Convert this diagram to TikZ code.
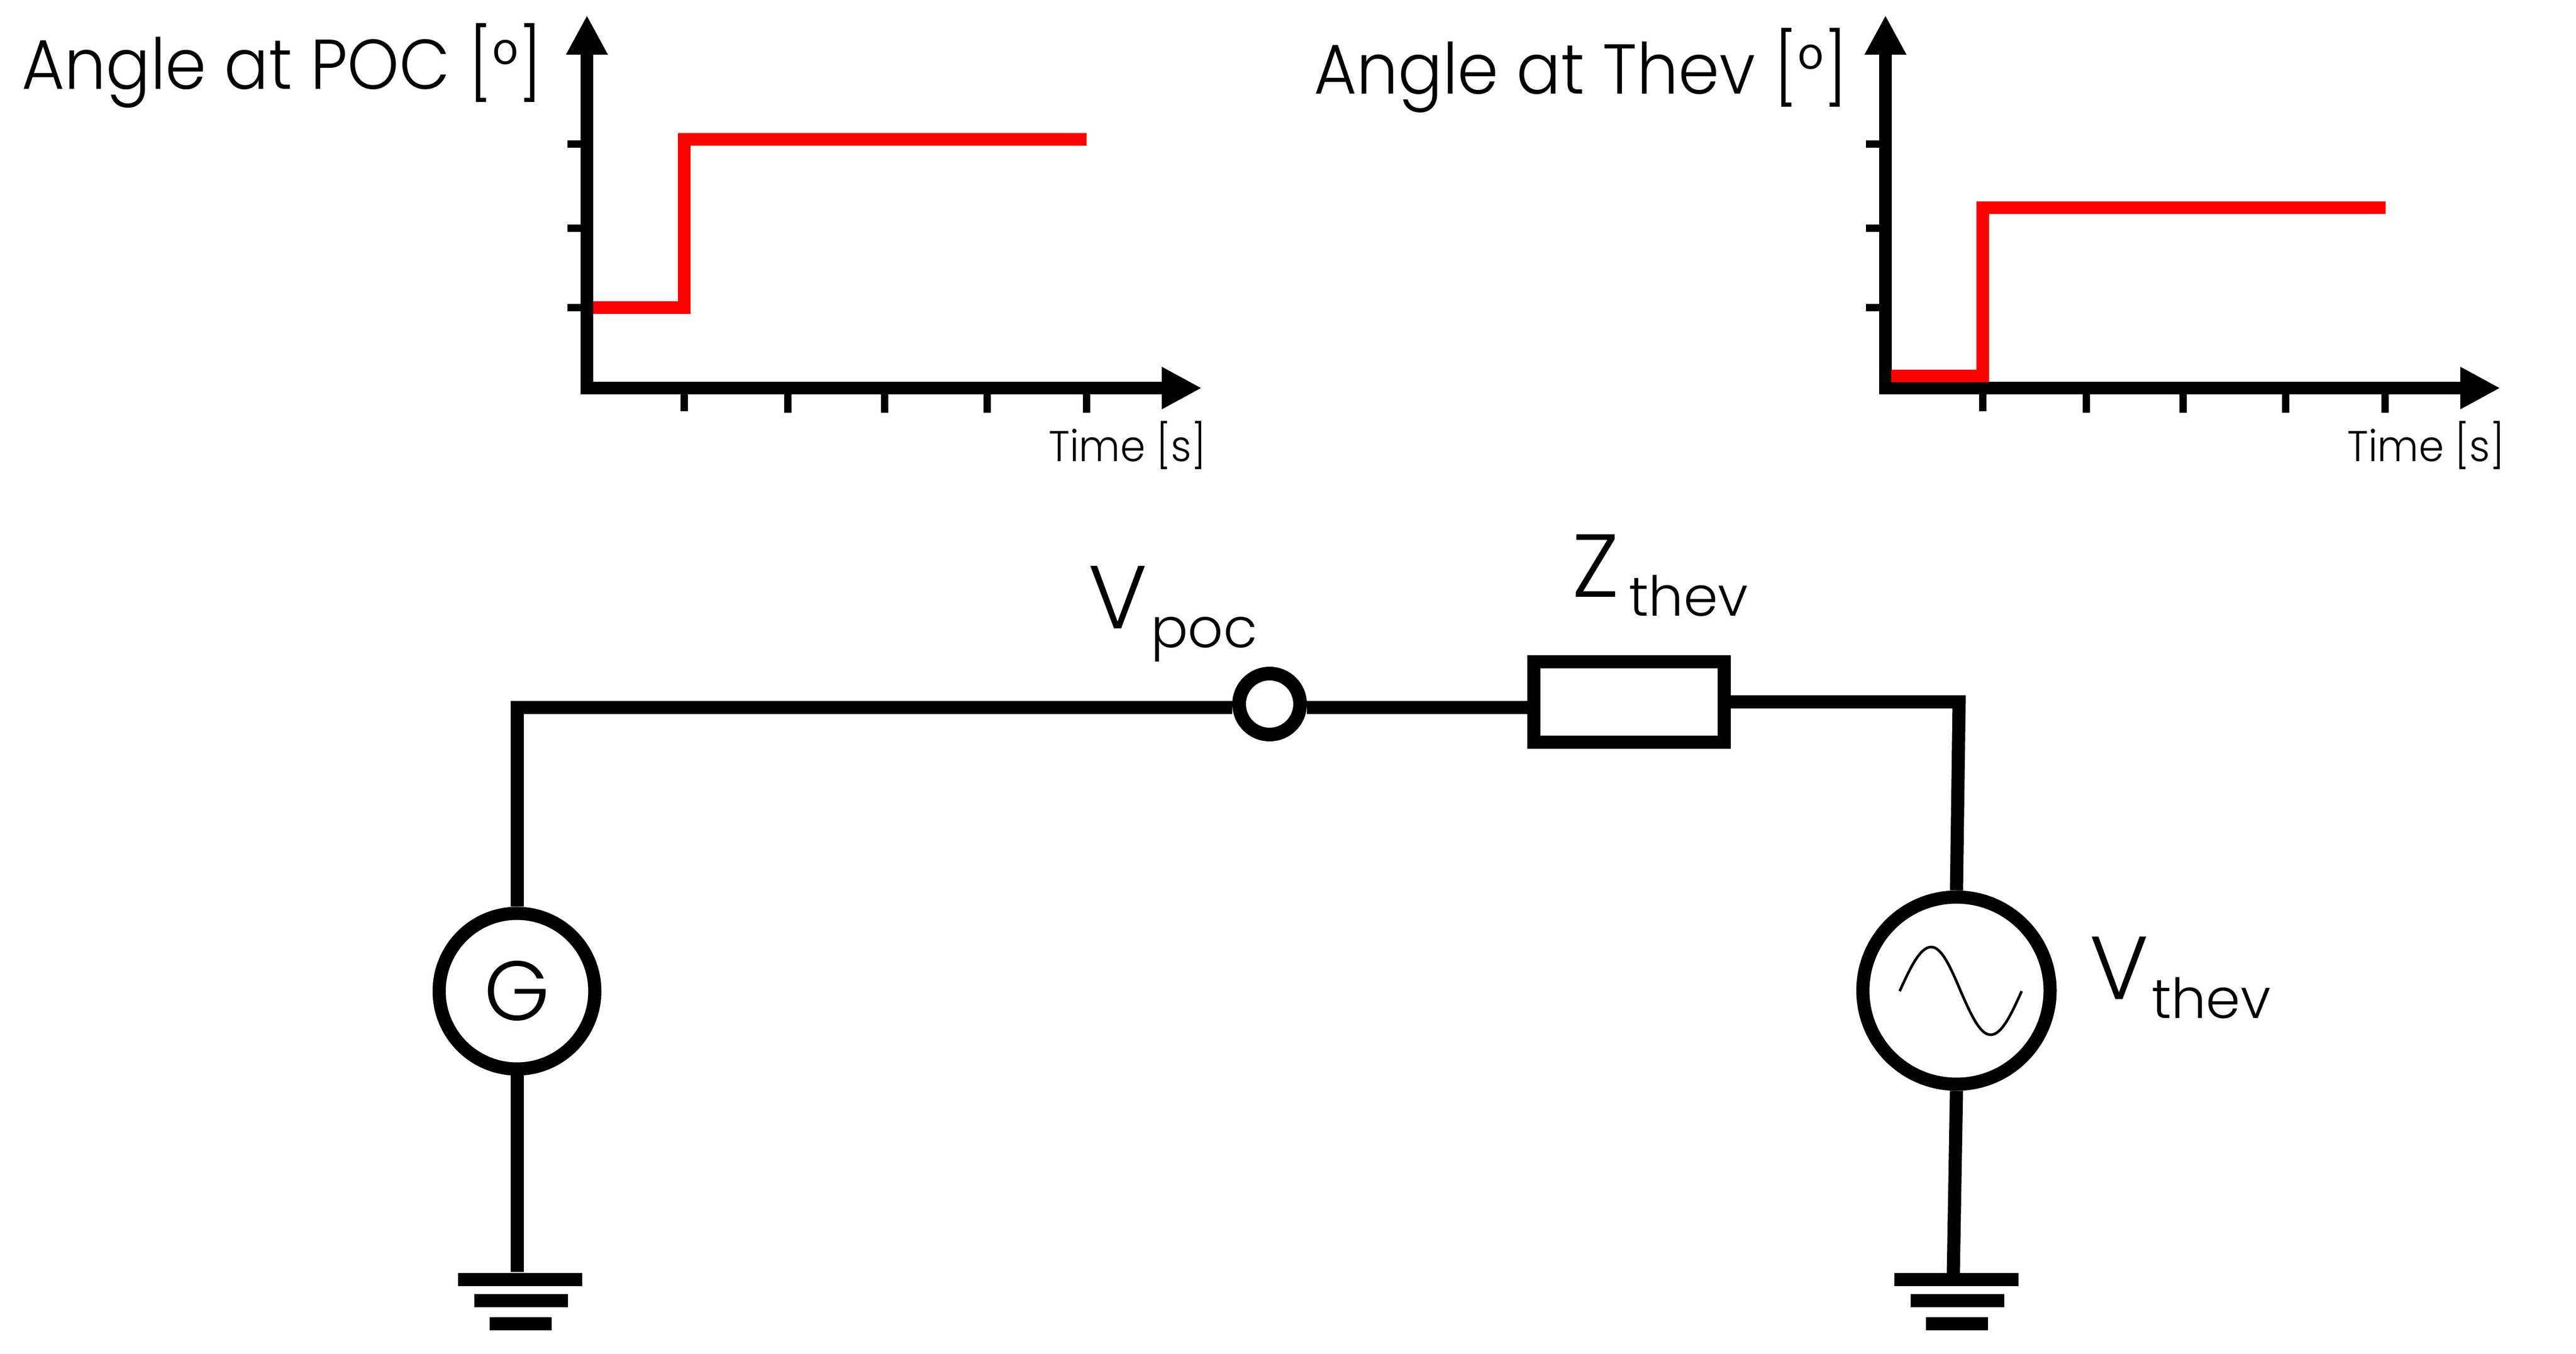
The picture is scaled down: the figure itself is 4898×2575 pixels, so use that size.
\documentclass[tikz,border=0pt]{standalone}
\usepackage{fontspec}
\setmainfont{Poppins}[UprightFont=* Light]
\newfontfamily\titlefamily{Poppins}[UprightFont=* Light,FakeStretch=0.934]
\usetikzlibrary{arrows.meta,calc}
\tikzstyle{axis}=[line width=2.45pt, line join=miter, {Triangle[length=7.5pt,width=7.4pt]}-{Triangle[length=7.6pt,width=7.5pt]}]
\tikzstyle{tick}=[line width=1.4pt]
\tikzstyle{step line}=[line width=2.45pt, color=red, line join=miter]
\tikzstyle{wire}=[line width=2.5pt, line join=miter]
\tikzstyle{annot}=[inner sep=0pt, align=left]
\tikzstyle{source}=[circle, draw=black, fill=white, line width=2.5pt, inner sep=0pt]
\tikzstyle{gndbar}=[rectangle, fill=black, inner sep=0pt, minimum height=2.5pt]
\newcommand{\titlefont}{\titlefamily\fontsize{13.4}{13.4}\selectfont}
\newcommand{\sublabel}[3]{{\fontsize{17}{17}\selectfont #1}\hspace{#3}\raisebox{-3.6pt}{\fontsize{10.5}{10.5}\selectfont #2}}
\newcommand{\drawaxes}[2]
{
  \begin{scope}[xshift=#2*0.1pt]
  \coordinate (#1top) at (1116,29);
  \coordinate (#1origin) at (1116,738);
  \coordinate (#1right) at (2285,738);
  \draw[axis] (#1top) -- (#1origin) -- (#1right);
  \draw[tick] (1079,274) -- (1104,274);
  \draw[tick] (1079,434) -- (1104,434);
  \draw[tick] (1079,585) -- (1104,585);
  \draw[tick] (1301,750) -- (1301,782);
  \draw[tick] (1498,750) -- (1498,785);
  \draw[tick] (1682,750) -- (1682,785);
  \draw[tick] (1877,750) -- (1877,785);
  \draw[tick] (2066,750) -- (2066,785);
  \node[annot, anchor=base east](#1time) at (2296,878) {\titlefamily\fontsize{8.2}{8.2}\selectfont Time [s]};
  \end{scope}
}
\newcommand{\drawground}[2]
{
  \node[gndbar, minimum width=23.6pt](#1a) at (#2,2433.5){};
  \node[gndbar, minimum width=17.8pt](#1b) at (#2+2,2473.5){};
  \node[gndbar, minimum width=11.8pt](#1c) at (#2+1,2517.5){};
}
\begin{document}
\begin{tikzpicture}[x=0.1pt,y=-0.1pt]
	\useasboundingbox (0,0) rectangle (4898,2575);

	\drawaxes{poc}{0}
	\drawaxes{thev}{2469}

	\draw[step line] (1128,585) -- (1301,585) -- (1301,265) -- (2066,265);
	\draw[step line] (3596,715) -- (3770,715) -- (3770,395) -- (4536,395);

	\node[annot, anchor=base west](poctitle) at (39,170) {\titlefont Angle at POC [°]};
	\node[annot, anchor=base west](thevtitle) at (2496,179) {\titlefont Angle at Thev [°]};

	% circuit
	\node[source, minimum size=29.6pt](gen) at (983,1885) {\raisebox{-0.8pt}{\fontsize{16}{16}\selectfont G}};
	\node[source, line width=2.6pt, minimum size=11.6pt](bus) at (2414,1339) {};
	\node[rectangle, draw=black, fill=white, line width=2.5pt, minimum width=36.2pt, minimum height=15.3pt, inner sep=0pt](zthev) at (3097.5,1335) {};
	\node[source, minimum size=35.6pt](vthev) at (3720,1884) {};
	\draw[line width=0.5pt] (3612,1885) sin (3672,1801) cos (3728,1885) sin (3785,1968) cos (3844,1885);

	\drawground{gndl}{989}
	\drawground{gndr}{3720}

	\coordinate (cornerl) at (983,1346);
	\coordinate (cornerr) at (3725,1335);
	\coordinate (gndrtop) at (3714,2421);

	\draw[wire] (gen.north) -- (cornerl) -- (bus.west |- cornerl);
	\draw[wire] (bus.east |- cornerl) -- (zthev.west |- cornerl);
	\draw[wire] (zthev.east) -- (cornerr) -- (vthev.north);
	\draw[wire] (gen.south) -- (gen.south |- gndla.north);
	\draw[wire] (vthev.south) -- (gndrtop);

	\node[annot, anchor=base west](vpoc) at (2067,1196) {\sublabel{V}{poc}{0.7pt}};
	\node[annot, anchor=base west](zlabel) at (2987,1136) {\sublabel{Z}{thev}{1.9pt}};
	\node[annot, anchor=base west](vlabel) at (3971,1901) {\sublabel{V}{thev}{0.6pt}};

\end{tikzpicture}
\end{document}
